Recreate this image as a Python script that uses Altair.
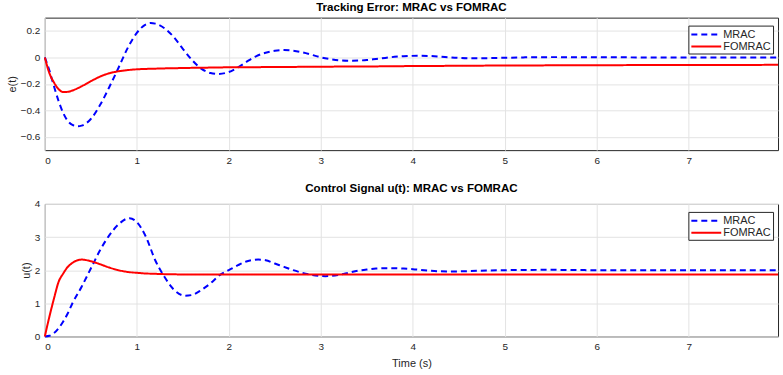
import altair as alt
import pandas as pd

# ---------------- data ----------------
t_err = [0, 0.05, 0.1, 0.15, 0.2, 0.25, 0.3, 0.36, 0.4, 0.5, 0.6, 0.7, 0.8, 0.9,
         1.0, 1.1, 1.15, 1.2, 1.3, 1.4, 1.5, 1.6, 1.7, 1.8, 1.88, 2.0, 2.1, 2.2,
         2.3, 2.4, 2.5, 2.6, 2.7, 2.8, 2.9, 3.0, 3.1, 3.2, 3.33, 3.5, 3.6, 3.7,
         3.8, 3.9, 4.05, 4.2, 4.35, 4.5, 4.65, 4.8, 5.0, 5.2, 5.5, 6.0, 6.5, 7.0,
         7.5, 7.97]
err_mrac = [0, -0.10, -0.22, -0.33, -0.42, -0.48, -0.51, -0.52, -0.515, -0.465,
            -0.36, -0.225, -0.08, 0.07, 0.185, 0.25, 0.26, 0.255, 0.22, 0.155,
            0.065, -0.02, -0.085, -0.118, -0.125, -0.11, -0.075, -0.03, 0.01,
            0.035, 0.05, 0.055, 0.05, 0.038, 0.02, 0.0, -0.013, -0.022, -0.025,
            -0.02, -0.012, -0.004, 0.004, 0.009, 0.012, 0.01, 0.003, -0.004,
            -0.007, -0.006, -0.003, 0.0, 0.002, 0.001, 0.0, 0.0, 0.0, 0.0]
err_fomrac = [0, -0.12, -0.19, -0.24, -0.262, -0.26, -0.25, -0.232, -0.218, -0.18,
              -0.145, -0.12, -0.105, -0.096, -0.09, -0.087, -0.086, -0.085, -0.083,
              -0.082, -0.08, -0.079, -0.078, -0.077, -0.076, -0.075, -0.075, -0.074,
              -0.074, -0.073, -0.073, -0.072, -0.072, -0.071, -0.071, -0.07, -0.07,
              -0.069, -0.069, -0.068, -0.068, -0.067, -0.067, -0.066, -0.065, -0.065,
              -0.064, -0.063, -0.063, -0.062, -0.061, -0.061, -0.06, -0.059, -0.058,
              -0.057, -0.057, -0.056]

t_u = [0, 0.05, 0.1, 0.15, 0.2, 0.25, 0.3, 0.4, 0.5, 0.6, 0.7, 0.8, 0.92, 1.0,
       1.1, 1.2, 1.3, 1.4, 1.52, 1.6, 1.7, 1.8, 1.9, 2.0, 2.1, 2.2, 2.32, 2.4,
       2.5, 2.6, 2.7, 2.8, 2.9, 3.05, 3.2, 3.3, 3.4, 3.5, 3.6, 3.75, 3.9, 4.0,
       4.2, 4.4, 4.6, 4.8, 5.0, 5.5, 6.0, 6.5, 7.0, 7.5, 7.97]
u_mrac = [0, 0.02, 0.1, 0.25, 0.45, 0.7, 1.0, 1.5, 2.05, 2.6, 3.05, 3.38, 3.57,
          3.45, 3.0, 2.3, 1.8, 1.42, 1.23, 1.25, 1.4, 1.6, 1.85, 2.0, 2.15, 2.27,
          2.32, 2.3, 2.2, 2.1, 2.0, 1.92, 1.86, 1.82, 1.86, 1.92, 1.98, 2.02, 2.05,
          2.06, 2.05, 2.03, 1.98, 1.96, 1.97, 1.99, 2.0, 2.01, 2.0, 2.0, 2.0, 2.0,
          2.0]
u_fomrac = [0, 0.6, 1.15, 1.65, 1.9, 2.1, 2.22, 2.32, 2.27, 2.18, 2.08, 2.0, 1.94,
            1.92, 1.9, 1.89, 1.88, 1.875, 1.87, 1.87, 1.87, 1.87, 1.87, 1.87, 1.87,
            1.87, 1.87, 1.87, 1.87, 1.87, 1.87, 1.87, 1.87, 1.87, 1.87, 1.87, 1.87,
            1.87, 1.87, 1.87, 1.87, 1.87, 1.87, 1.87, 1.87, 1.87, 1.87, 1.87, 1.87,
            1.87, 1.87, 1.87, 1.87]

series_names = ["MRAC", "FOMRAC"]
series_colors = ["#0000ff", "#ff0000"]
x_ticks = [0, 1, 2, 3, 4, 5, 6, 7]


def long_frame(t, a, b):
    return pd.DataFrame({
        "t": list(t) + list(t),
        "v": list(a) + list(b),
        "series": [series_names[0]] * len(t) + [series_names[1]] * len(t),
    })


err_df = long_frame(t_err, err_mrac, err_fomrac)
u_df = long_frame(t_u, u_mrac, u_fomrac)

FONT = "Liberation Sans"
INK = "#262626"


def make_legend():
    return alt.Legend(title=None, orient="none", legendX=646, legendY=8,
                      direction="vertical", symbolType="M-1,0H4", symbolSize=144,
                      symbolStrokeWidth=2, labelFontSize=11, labelFont=FONT,
                      labelColor=INK, labelOffset=19, padding=2, rowPadding=0,
                      strokeColor=INK, fillColor="white", cornerRadius=0)


def panel(df, title, ytitle, ydomain, yticks, xtitle, show_xtitle):
    x_axis = alt.Axis(values=x_ticks, grid=True, ticks=False, labelFontSize=10,
                      labelColor=INK, labelPadding=5, domain=False, format="~g",
                      titleFontSize=11, titleColor=INK, titleFontWeight="normal",
                      titlePadding=6, labelFont=FONT, titleFont=FONT)
    y_axis = alt.Axis(values=yticks, grid=True, ticks=False, labelFontSize=10,
                      labelColor=INK, labelPadding=5, domain=False, format=".1~f",
                      titleFontSize=11, titleColor=INK, titleFontWeight="normal",
                      titlePadding=3, labelFont=FONT, titleFont=FONT)
    x_enc = alt.X("t:Q", scale=alt.Scale(domain=[0, 7.97], nice=False, zero=False),
                  axis=x_axis, title=xtitle if show_xtitle else "")
    y_enc = alt.Y("v:Q", scale=alt.Scale(domain=ydomain, nice=False, zero=False),
                  axis=y_axis, title=ytitle)
    color_enc = alt.Color("series:N",
                          scale=alt.Scale(domain=series_names, range=series_colors),
                          legend=make_legend())
    dash_enc = alt.StrokeDash("series:N",
                              scale=alt.Scale(domain=series_names, range=[[6, 4], [1, 0]]),
                              legend=make_legend())
    base = alt.Chart(df).mark_line(strokeWidth=2, interpolate="monotone").encode(
        x=x_enc, y=y_enc, color=color_enc, strokeDash=dash_enc)
    layers = alt.layer(
        base.transform_filter(alt.datum.series == series_names[0]),
        base.transform_filter(alt.datum.series == series_names[1]),
    ).properties(
        width=736, height=133,
        title=alt.TitleParams(title, fontSize=11.6, font=FONT, fontWeight="bold",
                              color="black", anchor="middle", frame="group",
                              offset=4),
    )
    return layers


top = panel(err_df, "Tracking Error: MRAC vs FOMRAC", "e(t)", [-0.7, 0.3],
            [-0.6, -0.4, -0.2, 0, 0.2], "Time (s)", False)
bottom = panel(u_df, "Control Signal u(t): MRAC vs FOMRAC", "u(t)", [0, 4],
               [0, 1, 2, 3, 4], "Time (s)", True)

chart = alt.vconcat(top, bottom, spacing=16).resolve_scale(
    color="independent", strokeDash="independent"
).resolve_legend(
    color="independent", strokeDash="independent"
).properties(
    padding={"left": 5, "top": 0, "right": 0, "bottom": 0},
    background="white",
).configure_view(
    stroke=INK, strokeWidth=1
).configure_axis(
    gridColor="#e3e3e3", gridWidth=1
)

chart.save("out.html", embed_options={"renderer": "svg", "actions": False})
